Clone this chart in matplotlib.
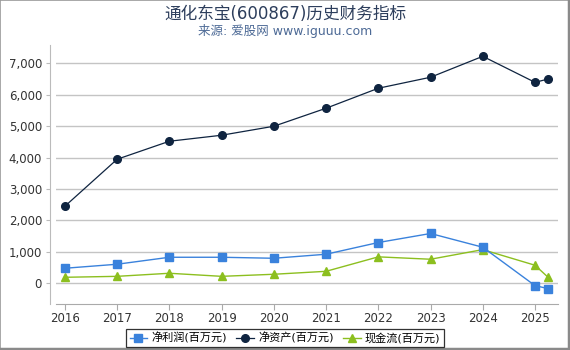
"""Recreate the 通化东宝 historical financial indicator line chart."""
import matplotlib

matplotlib.use("Agg")
import matplotlib.pyplot as plt
from matplotlib.lines import Line2D
from matplotlib.patches import Rectangle

plt.rcParams["font.family"] = ["DejaVu Sans", "Noto Sans CJK SC"]

# data (百万元)
periods = [2016, 2017, 2018, 2019, 2020, 2021, 2022, 2023, 2024, 2025, 2025.25]
year_ticks = [2016, 2017, 2018, 2019, 2020, 2021, 2022, 2023, 2024, 2025]
net_profit = [477, 605, 827, 827, 795, 923, 1296, 1583, 1146, -75, -170]
net_assets = [2450, 3945, 4518, 4709, 4995, 5568, 6204, 6554, 7220, 6392, 6497]
cash_flow = [190, 220, 318, 220, 286, 380, 840, 764, 1070, 573, 190]

series_labels = ["净利润(百万元)", "净资产(百万元)", "现金流(百万元)"]
title = "通化东宝(600867)历史财务指标"
subtitle = "来源: 爱股网 www.iguuu.com"

W, H = 570, 350
fig = plt.figure(figsize=(W / 100, H / 100), dpi=100)
ax = fig.add_axes([56 / W, (H - 304) / H, (558 - 56) / W, (304 - 45) / H])

ax.plot(periods, cash_flow, color="#8cbf1f", lw=1.0, marker="^", ms=6,
        label=series_labels[2], zorder=3)
ax.plot(periods, net_assets, color="#0f2440", lw=0.9, marker="o", ms=5.5,
        label=series_labels[1], zorder=4)
ax.plot(periods, net_profit, color="#3a82dc", lw=1.0, marker="s", ms=5.5,
        label=series_labels[0], zorder=5)

ax.set_xlim(2015.83, 2025.44)
ax.set_ylim(-660, 7580)
ax.set_xticks(year_ticks)
ax.set_xticklabels([str(y) for y in year_ticks])
ax.set_yticks(range(0, 8000, 1000))
ax.set_yticklabels([f"{v:,}" for v in range(0, 8000, 1000)])

ax.grid(axis="y", color="#c4c4c4", lw=1.0)
ax.set_axisbelow(True)
for side in ["top", "right"]:
    ax.spines[side].set_visible(False)
ax.spines["left"].set_position(("outward", 4))
ax.spines["left"].set_color("#bbbbbb")
ax.spines["bottom"].set_color("#aaaaaa")
ax.tick_params(axis="y", length=3, color="#bbbbbb", labelsize=8.5,
               labelcolor="#333333", pad=3)
ax.tick_params(axis="x", length=4, color="#aaaaaa", labelsize=8.5,
               labelcolor="#333333", pad=2)

fig.text(0.5, 1 - 14 / H, title, ha="center", va="center", fontsize=12,
         color="#2d3e5c")
fig.text(0.5, 1 - 31 / H, subtitle, ha="center", va="center", fontsize=9,
         color="#4d6a96")

handles, labels = ax.get_legend_handles_labels()
order = [2, 1, 0]
leg = fig.legend([handles[i] for i in order], [labels[i] for i in order],
                 loc="center", bbox_to_anchor=(285 / W, 1 - 338 / H), ncol=3,
                 fontsize=8, frameon=True, fancybox=False, handlelength=1.6,
                 handletextpad=0.4, columnspacing=0.8, borderpad=0.3)
leg.get_frame().set_edgecolor("black")
leg.get_frame().set_linewidth(0.9)

# outer frame of the picture
fig.add_artist(Rectangle((0, 0), 1, 1, transform=fig.transFigure, fill=False,
                         edgecolor="#9a9a9a", lw=1.2))
fig.add_artist(Line2D([1 - 1.5 / W] * 2, [0, 1], transform=fig.transFigure,
                      color="#8a8a8a", lw=2.5))
fig.add_artist(Line2D([0, 1], [1.5 / H] * 2, transform=fig.transFigure,
                      color="#8a8a8a", lw=2.5))

fig.savefig("out.png", dpi=100)
